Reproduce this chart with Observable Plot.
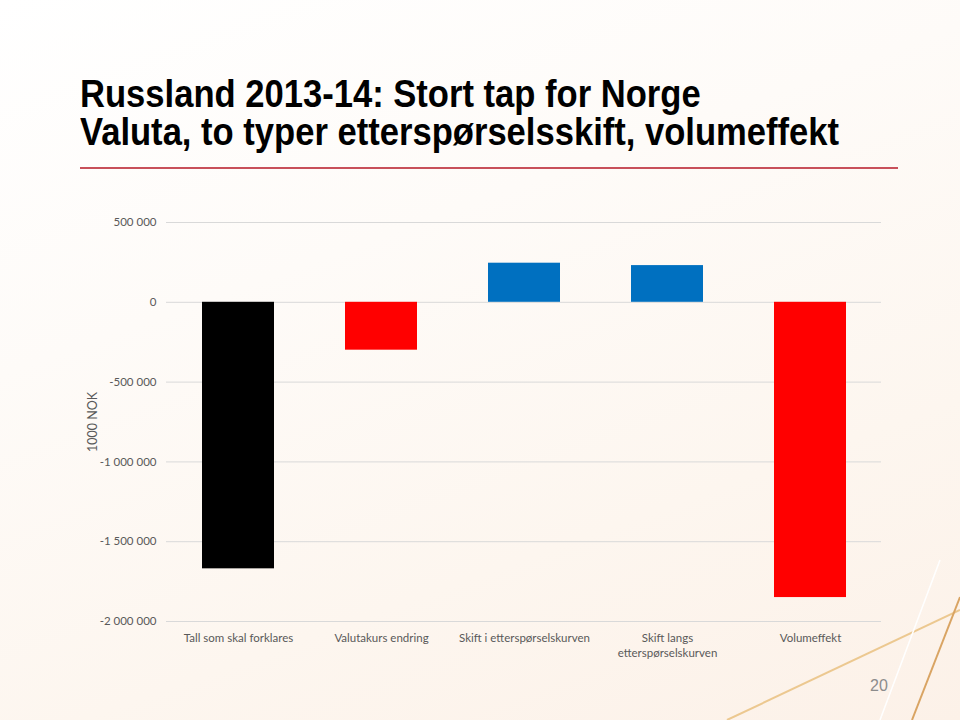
<!DOCTYPE html>
<html>
<head>
<meta charset="utf-8">
<script src="https://cdn.jsdelivr.net/npm/d3@7"></script>
<script src="https://cdn.jsdelivr.net/npm/@observablehq/plot@0.6"></script>
<style>
  html, body { margin: 0; padding: 0; }
  #page {
    position: relative; width: 960px; height: 720px; overflow: hidden;
    background: linear-gradient(160deg, #ffffff 0%, #fefbf8 35%, #fdf6ef 70%, #fcf1e8 100%);
  }
  #title {
    position: absolute; left: 80px; top: 75px; margin: 0; white-space: nowrap;
    font-family: "Liberation Sans", Arial, sans-serif;
    font-weight: bold; font-size: 38px; line-height: 38px; color: #000;
    transform: scaleX(0.91); transform-origin: left top;
  }
  #rule { position: absolute; left: 80px; top: 167px; width: 818px; height: 2px; background: #c8505a; }
  #chart { position: absolute; left: 0; top: 200px; }
  #pagenum { position: absolute; left: 870px; top: 677px; font-family: "Liberation Sans", Arial, sans-serif; font-size: 16px; color: #8c8c8c; }
  #deco { position: absolute; left: 0; top: 0; }
</style>
</head>
<body>
<div id="page">
  <svg id="deco" width="960" height="720">
    <line x1="727" y1="720" x2="960" y2="610" stroke="#ecc890" stroke-width="2"/>
    <line x1="912" y1="720" x2="960" y2="597" stroke="#d9a463" stroke-width="2"/>
    <line x1="880" y1="720" x2="940" y2="560" stroke="#ffffff" stroke-width="1.5"/>
  </svg>
  <div id="title">Russland 2013-14: Stort tap for Norge<br>Valuta, to typer etterspørselsskift, volumeffekt</div>
  <div id="rule"></div>
  <div id="chart"></div>
  <div id="pagenum">20</div>
</div>
<script>
const categories = ["Tall som skal forklares", "Valutakurs endring", "Skift i etterspørselskurven", "Skift langs etterspørselskurven", "Volumeffekt"];
const tickLabels = ["Tall som skal forklares", "Valutakurs endring", "Skift i etterspørselskurven", "Skift langs\netterspørselskurven", "Volumeffekt"];
const values = [-1670000, -300000, 245000, 230000, -1850000];
const colors = ["#000000", "#ff0000", "#0070c0", "#0070c0", "#ff0000"];
const yTicks = [500000, 0, -500000, -1000000, -1500000, -2000000];

const data = categories.map((c, i) => ({cat: c, value: values[i], color: colors[i]}));
const loc = d3.formatLocale({decimal: ",", thousands: " ", grouping: [3], currency: ["", ""], minus: "-"});
const fmt = loc.format(",d");

const chart = Plot.plot({
  width: 960,
  height: 471,
  marginLeft: 166,
  marginRight: 79,
  marginTop: 22,
  marginBottom: 50,
  style: {background: "transparent", fontFamily: "Lato, 'Open Sans', sans-serif", fontSize: "11px", color: "#595959"},
  x: {domain: categories, paddingInner: 0.5, paddingOuter: 0.25, label: null},
  y: {domain: [-2000000, 500000], label: null},
  marks: [
    Plot.gridY(yTicks, {stroke: "#d9d9d9", strokeOpacity: 1, strokeWidth: 1}),
    Plot.axisY(yTicks, {tickSize: 0, tickPadding: 10, tickFormat: fmt, fill: "#595959", fontSize: 11.5,
      label: "1000 NOK", labelAnchor: "center", labelArrow: "none", labelOffset: 78}),
    Plot.barY(data, {x: "cat", y: "value", fill: "color"}),
    Plot.axisX({tickSize: 0, tickPadding: 10, tickFormat: (d) => tickLabels[categories.indexOf(d)], fill: "#595959", fontSize: 11.5, lineHeight: 1.3, label: null})
  ]
});
const lbl = chart.querySelector("g[aria-label='y-axis label'] text");
if (lbl) lbl.setAttribute("font-size", "12.5");
document.getElementById("chart").appendChild(chart);
</script>
</body>
</html>
